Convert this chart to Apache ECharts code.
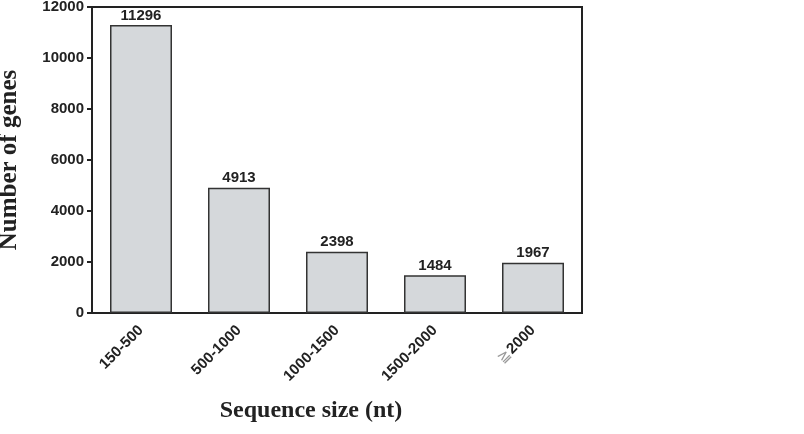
<!DOCTYPE html>
<html>
<head>
	<meta charset="utf-8">
	<title>Sequence size</title>
	<script type="text/javascript" src="https://cdn.jsdelivr.net/npm/echarts@6/dist/echarts.min.js"></script>
</head>
<body style="margin:0">
<div id="main" style="width: 804px; height: 434px"></div>

<script type="text/javascript">
var categories = ['150-500', '500-1000', '1000-1500', '1500-2000', '≧2000'];
var geneCounts = [11296, 4913, 2398, 1484, 1967];
var yTicks = {min: 0, max: 12000, interval: 2000};

var myChart = echarts.init(document.getElementById('main'));

var option = {
    animation: false,
    grid: {
        left: 92,
        right: 222,
        top: 7,
        bottom: 121,
        outerBoundsMode: 'none',
        show: true,
        borderColor: '#222',
        borderWidth: 2
    },
    xAxis: {
        type: 'category',
        data: categories,
        name: 'Sequence size (nt)',
        nameLocation: 'middle',
        nameGap: 86,
        nameTextStyle: {
            fontFamily: 'Liberation Serif',
            fontWeight: 'bold',
            fontSize: 24,
            color: '#222',
            padding: [0, 52, 0, 0]
        },
        axisLine: {lineStyle: {color: '#222', width: 2}},
        axisTick: {alignWithLabel: true, length: 6, lineStyle: {color: '#222', width: 2}},
        axisLabel: {
            rotate: 45,
            margin: 15,
            fontFamily: 'Liberation Sans',
            fontWeight: 'bold',
            fontSize: 15,
            color: '#222',
            formatter: function (v) {
                if (v.charAt(0) === '≧') {
                    return '{sym|≧}' + v.slice(1);
                }
                return v;
            },
            rich: {
                sym: {color: '#999', fontSize: 15, fontWeight: 'normal'}
            }
        }
    },
    yAxis: {
        type: 'value',
        min: yTicks.min,
        max: yTicks.max,
        interval: yTicks.interval,
        name: 'Number of genes',
        nameLocation: 'middle',
        nameGap: 70,
        nameTextStyle: {
            fontFamily: 'Liberation Serif',
            fontWeight: 'bold',
            fontSize: 25,
            color: '#222'
        },
        splitLine: {show: false},
        axisLine: {show: true, lineStyle: {color: '#222', width: 2}},
        axisTick: {show: true, length: 5, lineStyle: {color: '#222', width: 2}},
        axisLabel: {
            margin: 8,
            fontFamily: 'Liberation Sans',
            fontWeight: 'bold',
            fontSize: 15,
            color: '#222',
            formatter: function (v) { return String(v); }
        }
    },
    series: [
        {
            type: 'bar',
            data: geneCounts,
            barWidth: 62,
            itemStyle: {
                color: '#d5d8db',
                borderColor: '#333',
                borderWidth: 1.5
            },
            label: {
                show: true,
                position: 'top',
                distance: 2,
                fontFamily: 'Liberation Sans',
                fontWeight: 'bold',
                fontSize: 15,
                color: '#222'
            }
        }
    ]
};

myChart.setOption(option);
</script>
</body>
</html>
